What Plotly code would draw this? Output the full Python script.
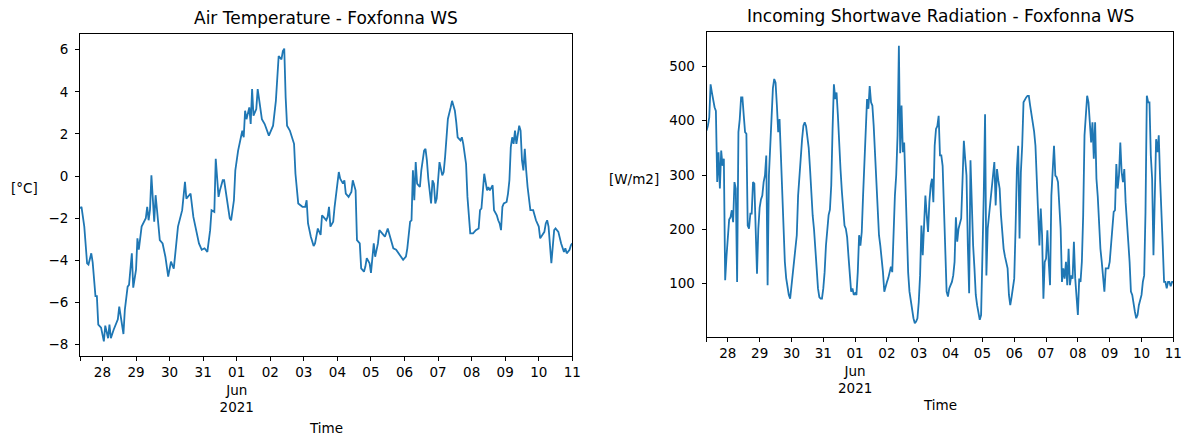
import pandas as pd
import plotly.graph_objects as go

# ---------------- data ----------------
start_time = "2021-05-27 08:00"

temp_hours = [0, 1, 3, 5, 6, 8, 9, 11, 12, 13, 15, 17, 18, 20, 21, 22, 24, 27, 28, 29,
              31, 32, 34, 35, 37, 38, 40, 41, 42, 44, 46, 47, 48, 49, 50, 51, 53, 54, 55, 57,
              59, 61, 63, 65, 67, 68, 70, 73, 75, 76, 79, 81, 82, 83, 85, 87, 89, 91, 93, 94,
              96, 97, 99, 100, 102, 103, 105, 107, 108, 110, 111, 113, 115, 116, 117, 118, 119, 121, 122, 123,
              124, 126, 127, 129, 130, 132, 133, 135, 138, 140, 142, 144, 145, 146, 147, 148, 150, 152, 153, 154,
              156, 159, 161, 162, 163, 165, 167, 168, 170, 172, 173, 174, 176, 177, 178, 179, 181, 182, 184, 185,
              186, 188, 189, 190, 192, 194, 195, 197, 198, 200, 201, 203, 204, 205, 207, 208, 210, 211, 213, 214,
              216, 218, 220, 221, 222, 224, 226, 227, 229, 231, 233, 234, 236, 237, 238, 239, 240, 241, 242, 243,
              244, 246, 247, 248, 249, 250, 251, 252, 253, 254, 255, 256, 257, 259, 260, 261, 263, 265, 266, 267,
              268, 269, 270, 272, 273, 274, 276, 277, 279, 281, 283, 285, 286, 287, 288, 289, 291, 292, 293, 294,
              295, 296, 298, 299, 300, 301, 302, 303, 305, 306, 307, 308, 309, 310, 311, 312, 313, 314, 315, 316,
              317, 318, 319, 320, 322, 324, 326, 328, 329, 331, 332, 333, 334, 335, 337, 339, 340, 342, 343, 344,
              346, 347, 348, 350, 351, 352]
temp_values = [-1.54, -1.46, -2.4, -4.14, -4.2, -3.67, -4.1, -5.7, -5.7, -7.05, -7.2, -7.85, -7.1, -7.7, -7.05, -7.7, -7.3, -6.8, -6.2, -6.7,
               -7.5, -6.35, -5.25, -5.17, -3.67, -5.3, -4.45, -2.96, -3.5, -2.4, -2.1, -2.0, -1.46, -2.1, -1.6, 0.03, -2.17, -0.91, -1.6, -3.04,
               -3.2, -3.83, -4.77, -4.06, -4.4, -3.83, -2.4, -1.62, -0.28, -1.07, -0.83, -1.94, -2.25, -2.72, -3.2, -3.5, -3.43, -3.6, -2.57, -1.62,
               -1.7, 0.82, -0.99, -0.68, -0.2, -0.2, -1.15, -2.0, -2.1, -1.15, 0.27, 1.21, 1.84, 2.16, 1.84, 3.1, 2.7, 3.26, 2.47, 4.13,
               2.87, 3.18, 4.13, 3.02, 2.7, 2.47, 2.31, 1.92, 2.39, 3.57, 5.7, 5.54, 5.94, 6.05, 3.73, 2.39, 2.16, 1.69, 1.53, 0.11,
               -1.3, -1.46, -1.46, -1.15, -2.25, -2.88, -3.32, -3.2, -2.49, -2.8, -1.86, -1.94, -2.1, -1.94, -1.46, -2.4, -2.17, -1.46, -0.2, 0.19,
               -0.13, -0.36, -0.2, -0.83, -0.99, -0.76, -0.2, -0.68, -3.04, -3.2, -4.38, -4.54, -4.3, -3.9, -4.14, -4.6, -3.2, -3.83, -3.2, -2.57,
               -2.72, -2.88, -2.49, -2.72, -3.04, -3.43, -3.5, -3.6, -3.75, -3.98, -3.83, -3.43, -2.17, -2.1, 0.27, -1.15, 0.66, -0.36, -0.44, -0.52,
               0.27, 1.21, 1.29, 0.74, -0.13, -0.6, -1.3, -0.2, -0.36, -1.3, -1.07, -0.2, 0.66, 0.03, 0.19, 0.9, 2.71, 3.26, 3.57, 3.34,
               3.1, 2.55, 1.84, 1.69, 1.84, 1.53, 0.58, -0.99, -2.72, -2.72, -2.57, -2.49, -1.62, -1.54, -0.68, 0.11, -0.68, -0.52, -0.68, -0.52,
               -0.44, -1.62, -1.86, -2.1, -2.25, -2.57, -1.46, -1.3, -1.23, -0.83, -0.2, 1.37, 1.84, 1.53, 2.16, 1.53, 2.0, 2.39, 2.16, 0.74,
               0.27, 1.29, 0.27, -0.52, -1.62, -1.62, -2.1, -2.4, -2.96, -2.72, -2.65, -2.25, -2.1, -2.4, -4.14, -2.57, -2.49, -2.65, -2.96, -3.2,
               -3.6, -3.43, -3.67, -3.5, -3.28, -3.2]

swr_hours = list(range(0, 353))
swr_values = [382, 391, 406, 467, 452, 434, 425, 418, 287, 342, 275, 345, 317, 330, 106, 150, 185, 218, 222, 235,
              213, 287, 275, 103, 379, 403, 443, 443, 410, 379, 376, 207, 201, 229, 229, 287, 284, 200, 118, 201,
              240, 255, 262, 287, 299, 336, 97, 300, 354, 421, 460, 477, 470, 428, 379, 403, 336, 256, 201, 140,
              110, 90, 79, 72, 97, 115, 140, 164, 189, 262, 300, 340, 366, 391, 397, 390, 370, 350, 311, 262,
              225, 200, 170, 128, 91, 75, 72, 72, 91, 121, 170, 200, 226, 236, 281, 385, 467, 440, 452, 410,
              342, 310, 270, 240, 207, 201, 185, 150, 110, 85, 91, 79, 82, 79, 121, 189, 170, 195, 262, 324,
              385, 440, 422, 464, 434, 428, 391, 336, 275, 226, 189, 170, 150, 121, 85, 97, 103, 110, 121, 131,
              121, 201, 262, 300, 373, 538, 340, 428, 342, 360, 262, 177, 120, 85, 66, 54, 36, 27, 30, 36,
              66, 115, 207, 152, 213, 262, 226, 195, 250, 281, 293, 250, 354, 385, 390, 409, 336, 336, 317, 240,
              150, 85, 76, 91, 97, 103, 115, 140, 222, 177, 201, 213, 220, 290, 363, 330, 299, 170, 82, 327,
              230, 170, 128, 79, 60, 45, 33, 42, 128, 262, 412, 115, 201, 226, 260, 281, 311, 324, 244, 311,
              290, 275, 226, 189, 164, 150, 140, 128, 79, 60, 75, 91, 109, 201, 311, 354, 183, 305, 354, 434,
              440, 443, 446, 446, 428, 412, 403, 380, 354, 281, 232, 170, 238, 189, 72, 140, 146, 198, 140, 97,
              262, 299, 354, 299, 296, 287, 250, 201, 103, 128, 109, 140, 97, 164, 97, 115, 109, 177, 109, 79,
              42, 109, 103, 140, 226, 373, 420, 446, 434, 385, 360, 397, 330, 397, 293, 260, 200, 164, 140, 103,
              85, 128, 128, 128, 140, 170, 200, 232, 235, 320, 275, 299, 360, 305, 287, 311, 250, 201, 177, 140,
              85, 79, 60, 48, 36, 42, 60, 72, 79, 103, 115, 232, 446, 434, 434, 336, 293, 152, 293, 366,
              342, 373, 293, 213, 170, 103, 103, 91, 103, 103, 95, 103, 103]

tick_dates = ["2021-05-28", "2021-05-29", "2021-05-30", "2021-05-31", "2021-06-01",
              "2021-06-02", "2021-06-03", "2021-06-04", "2021-06-05", "2021-06-06",
              "2021-06-07", "2021-06-08", "2021-06-09", "2021-06-10", "2021-06-11"]
tick_labels = ["28", "29", "30", "31", "01<br>Jun<br>2021", "02", "03", "04", "05", "06",
               "07", "08", "09", "10", "11"]

temp_ticks = [-8, -6, -4, -2, 0, 2, 4, 6]
swr_ticks = [100, 200, 300, 400, 500]

titles = ["Air Temperature - Foxfonna WS", "Incoming Shortwave Radiation - Foxfonna WS"]
y_labels = ["[°C]", "[W/m2]"]
x_label = "Time"

# ---------------- figure ----------------
W, H = 1189, 436
t0 = pd.Timestamp(start_time)
temp_time = t0 + pd.to_timedelta(temp_hours, unit="h")
swr_time = t0 + pd.to_timedelta(swr_hours, unit="h")

FONT = "DejaVu Sans"
LINE = "#1f77b4"


def pad_range(vals, frac=0.05):
    lo, hi = min(vals), max(vals)
    span = hi - lo
    return [lo - frac * span, hi + frac * span]


def px(x):
    return x / W


def py(y):
    return 1 - y / H


fig = go.Figure()
fig.add_trace(go.Scatter(x=temp_time, y=temp_values, mode="lines",
                         line=dict(color=LINE, width=1.8), xaxis="x", yaxis="y",
                         showlegend=False))
fig.add_trace(go.Scatter(x=swr_time, y=swr_values, mode="lines",
                         line=dict(color=LINE, width=1.8), xaxis="x2", yaxis="y2",
                         showlegend=False))

tick_font = dict(family=FONT, size=13.5, color="black")
x_tickvals = [start_time] + tick_dates
x_ticktext = [""] + tick_labels

common = dict(showline=True, linecolor="black", linewidth=1, mirror=True,
              ticks="outside", ticklen=4, tickwidth=1, tickcolor="black",
              showgrid=False, zeroline=False, tickfont=tick_font)

fig.update_layout(
    width=W, height=H, autosize=False,
    margin=dict(l=0, r=0, t=0, b=0),
    paper_bgcolor="white", plot_bgcolor="white",
    xaxis=dict(domain=[px(80.7), px(576.7)], anchor="y", type="date",
               range=[temp_time.min(), temp_time.max()],
               tickmode="array", tickvals=x_tickvals, ticktext=x_ticktext,
               tickangle=0, **common),
    yaxis=dict(domain=[py(356), py(34)], anchor="x",
               range=pad_range(temp_values), tickmode="array", tickvals=temp_ticks,
               ticklabelstandoff=4, **common),
    xaxis2=dict(domain=[px(712), px(1182.3)], anchor="y2", type="date",
                range=[swr_time.min(), swr_time.max()],
                tickmode="array", tickvals=x_tickvals, ticktext=x_ticktext,
                tickangle=0, **common),
    yaxis2=dict(domain=[py(337), py(32)], anchor="x2",
                range=pad_range(swr_values), tickmode="array", tickvals=swr_ticks,
                ticklabelstandoff=4, **common),
)

ann = []
ann.append(dict(text=titles[0], x=px(328.7), y=py(18), xref="paper", yref="paper",
                xanchor="center", yanchor="middle", showarrow=False,
                font=dict(family=FONT, size=17, color="black")))
ann.append(dict(text=titles[1], x=px(947.2), y=py(16), xref="paper", yref="paper",
                xanchor="center", yanchor="middle", showarrow=False,
                font=dict(family=FONT, size=17, color="black")))
ann.append(dict(text=y_labels[0], x=px(25), y=py(188), xref="paper", yref="paper",
                xanchor="center", yanchor="middle", showarrow=False, font=tick_font))
ann.append(dict(text=y_labels[1], x=px(639), y=py(179), xref="paper", yref="paper",
                xanchor="center", yanchor="middle", showarrow=False, font=tick_font))
ann.append(dict(text=x_label, x=px(328.7), y=py(428), xref="paper", yref="paper",
                xanchor="center", yanchor="middle", showarrow=False, font=tick_font))
ann.append(dict(text=x_label, x=px(947.2), y=py(405), xref="paper", yref="paper",
                xanchor="center", yanchor="middle", showarrow=False, font=tick_font))
fig.update_layout(annotations=ann)

fig.write_html("out.html", post_script="document.body.style.margin='0';")
